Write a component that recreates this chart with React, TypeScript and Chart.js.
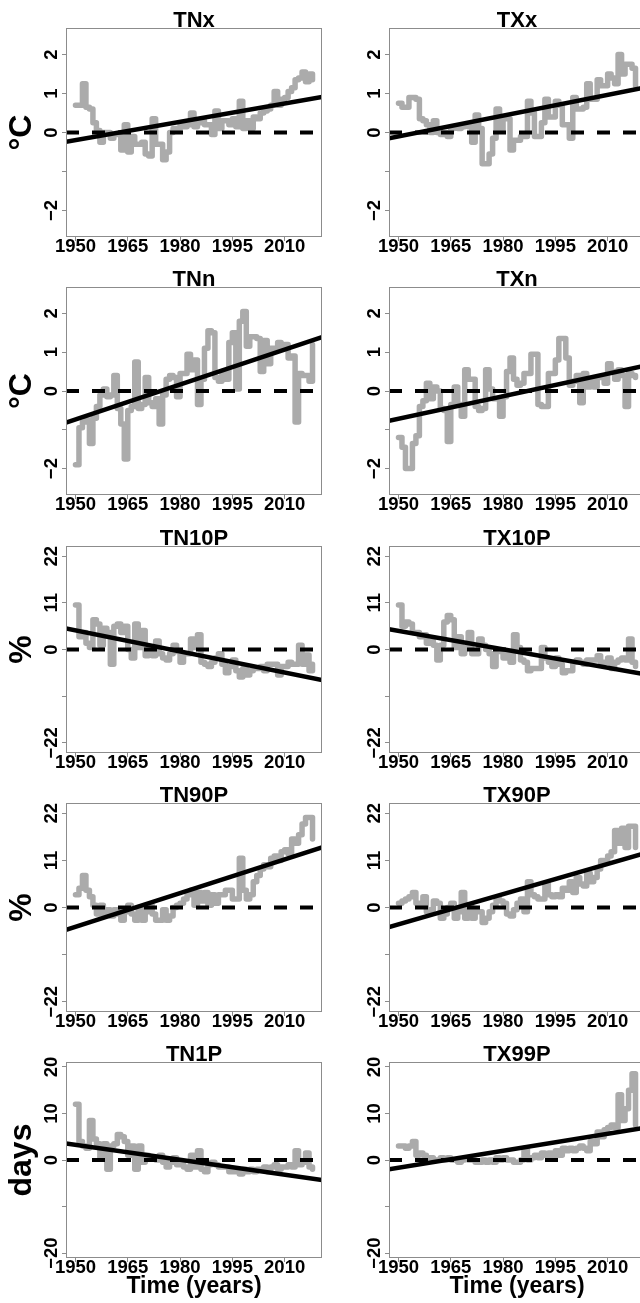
import React, { useEffect, useRef } from "react";
import { Chart, registerables } from "chart.js";

Chart.register(...registerables);

// ---- data -------------------------------------------------------------

const YEARS = [
  1950, 1951, 1952, 1953, 1954, 1955, 1956, 1957, 1958, 1959,
  1960, 1961, 1962, 1963, 1964, 1965, 1966, 1967, 1968, 1969,
  1970, 1971, 1972, 1973, 1974, 1975, 1976, 1977, 1978, 1979,
  1980, 1981, 1982, 1983, 1984, 1985, 1986, 1987, 1988, 1989,
  1990, 1991, 1992, 1993, 1994, 1995, 1996, 1997, 1998, 1999,
  2000, 2001, 2002, 2003, 2004, 2005, 2006, 2007, 2008, 2009,
  2010, 2011, 2012, 2013, 2014, 2015, 2016, 2017, 2018,
];

// Anomalies, one value per year
const TNX = [
  0.7, 0.7, 1.25, 0.65, 0.6, 0.25, 0.05, -0.25, 0.0, 0.0,
  -0.15, -0.05, -0.05, -0.45, 0.2, -0.5, -0.1, -0.3, -0.3, -0.25,
  -0.55, -0.6, 0.35, -0.3, -0.3, -0.7, -0.5, 0.0, 0.1, 0.05,
  0.2, 0.15, 0.2, 0.5, 0.15, 0.25, 0.3, 0.2, 0.2, -0.05,
  0.55, 0.1, 0.3, 0.3, 0.2, 0.35, 0.15, 0.8, 0.1, 0.3,
  0.1, 0.4, 0.35, 0.5, 0.55, 0.6, 0.7, 1.05, 0.7, 0.85,
  0.9, 1.05, 1.15, 1.35, 1.4, 1.55, 1.3, 1.5, 1.35,
];
const TXX = [
  0.75, 0.65, 0.65, 0.9, 0.9, 0.85, 0.35, 0.3, 0.2, 0.0,
  0.3, 0.0, -0.05, 0.0, -0.1, 0.1, 0.15, 0.1, 0.15, 0.2,
  0.15, -0.25, 0.45, 0.1, -0.8, -0.8, -0.55, -0.15, 0.6, 0.05,
  0.35, 0.35, -0.45, -0.2, -0.2, -0.1, -0.1, 0.8, 0.5, -0.1,
  -0.1, 0.25, 0.85, 0.4, 0.4, 0.8, 0.7, 0.2, 0.2, -0.15,
  0.9, 0.6, 0.6, 0.65, 1.25, 0.85, 0.85, 1.35, 1.2, 1.2,
  1.5, 1.4, 1.25, 2.0, 1.5, 1.75, 1.75, 1.65, 1.2,
];
const TNN = [
  -1.9, -0.95, -0.8, -0.75, -1.35, -0.7, -0.4, -0.1, 0.05, -0.15,
  -0.1, 0.4, -0.45, -0.85, -1.75, -0.5, -0.4, 0.75, -0.45, -0.35,
  0.35, -0.3, -0.4, -0.2, -0.85, -0.1, 0.3, 0.4, 0.35, -0.15,
  0.45, 0.45, 0.95, 0.55, 0.8, -0.35, 0.3, 1.1, 1.55, 1.5,
  0.35, 0.25, 0.5, 0.3, 1.25, 1.5, 0.05, 1.8, 2.05, 1.15,
  1.4, 1.4, 1.35, 0.5, 1.3, 0.7, 1.1, 1.1, 1.25, 1.1,
  1.2, 0.85, 0.9, -0.8, 0.45, 0.4, 0.4, 0.25, 1.2,
];
const TXN = [
  -1.2, -1.45, -2.0, -2.0, -1.35, -1.15, -0.4, -0.25, 0.2, -0.2,
  0.1, 0.0, -0.45, -0.5, -1.3, -0.35, 0.1, -0.35, -0.65, 0.55,
  0.3, 0.3, -0.4, -0.5, -0.45, 0.55, 0.05, -0.2, -0.2, -0.65,
  -0.15, 0.5, 0.85, 0.3, 0.15, 0.2, 0.45, 0.45, 0.95, 0.95,
  -0.35, -0.4, -0.4, 0.45, 0.45, 0.8, 1.35, 1.35, 0.85, 0.15,
  0.25, 0.4, -0.3, 0.45, 0.1, 0.3, 0.1, 0.35, 0.35, 0.2,
  0.7, 0.5, 0.3, 0.55, 0.4, -0.4, 0.45, 0.4, 0.35,
];
const TN10P = [
  10.5, 3, 4, 1.5, 0.5, 7, 6, 1, 5, 4,
  -3.5, 5.5, 6, 4, 5.5, 0, -2, 6, 0.5, 4.5,
  -1.5, 0, -1.5, 2, -1, -2, -2.5, -1, 1, -0.5,
  -3, -1, -1, 2.5, 0.5, 3.5, -3, -3.5, -4, -3,
  -2, -1, -3.5, -5.5, -4, -2.5, -5, -6.5, -4.5, -6,
  -5, -4.5, -4.5, -4, -5, -3.5, -3.5, -3.5, -6, -4,
  -4, -3, -3.5, -3.5, 1, -3.5, -1.3, -5, -3.5,
];
const TX10P = [
  10.5, 5.5, 6.5, 6, 4, 4, 3, 3.5, 1.5, 2,
  1, -2.5, 1, 6.5, 8, 7, 0.5, 3, -1, 0.5,
  4, -1, -1, 2.5, 1, 0, -1, -4, -0.5, -0.5,
  -2, -0.5, -3, 3.5, 0.5, -2.5, -3, -5, -4.5, -4.5,
  -4.5, 0.5, -2, -3, -4, -2, -3.5, -5.5, -5, -5,
  -3, -2.5, -3, -3.5, -2.5, -2.5, -2.5, -1.5, -3, -3,
  -2, -4.5, -3, -2.5, -2, -2.5, 2.5, -3, -4,
];
const TN90P = [
  3, 4.5, 7.5, 4, 2.5, 0.5, -1.5, 0.5, -1.5, -0.5,
  -2, -0.5, -1.5, -3, -1, 0.5, -1.5, -3, 0, -3,
  -1, 0.5, -1.5, -3, -3, -0.5, -3, -2, 0, 0.5,
  1, 2, 3, 4, 0.5, 3.5, 1.5, 3.5, 0.5, 3,
  1, 3, 3, 4, 4, 2, 2, 11.5, 4, 2,
  3, 6, 7.5, 9, 10, 9.5, 11.5, 12, 11, 13,
  13.5, 12.5, 16, 15, 17, 19.5, 21, 21, 16,
];
const TX90P = [
  1, 1.5, 2, 2.5, 3.5, 1, 0.5, 2.5, -1, -0.5,
  1.5, 1, -2.5, -1.5, 0, 1, -2.5, -1, 3.5, -2.5,
  0.5, -2.5, -1, -1, -3.5, -2.5, -1, 0.5, 2, 1.5,
  1, -1.5, -2, -0.5, 1, 2, -1, 6, 3, 2.5,
  2, 2, 5.5, 3, 2.5, 3, 2.5, 4.5, 4, 6,
  3.5, 7, 5.5, 5, 8, 6, 7, 9, 11, 10.5,
  12, 13, 18, 15, 18.5, 14, 19, 19, 14,
];
const TN1P = [
  12, 4, 3, 2.5, 8.5, 4.5, 3.5, 0.5, 3.5, -2,
  3, 3.5, 5.5, 5, 4, 1, 3, -2, 3, -0.5,
  1, 0.5, 0.5, 0, 1, -0.5, -1.5, -0.5, 0.5, -1,
  -0.5, -1.5, -2, 1, -1.5, 2, -2, -2.5, -1, -0.5,
  -1, -1.5, -1.5, -1.5, -2.5, -2.5, -2, -3, -2, -2.5,
  -2, -2.5, -2, -2, -1.5, -2.5, -1.5, -1, -2, -1.5,
  -1.5, -1, -1.5, 2, -1, -0.5, 1.5, -1.5, -2,
];
const TX99P = [
  3, 3, 2.5, 3, 4, 1, 1.5, 1, 0.5, 0.5,
  0, 0, 0.5, 0, 0.5, 0, 0, -0.5, 0, 0.5,
  0, 0, -0.5, -0.5, 0, -0.5, 0, -0.5, 0.5, 0,
  0.5, 0, 0, -0.5, -0.5, 0, 2.5, 0, 0.5, 1,
  0.5, 1.5, 1, 1.5, 0.5, 2, 1, 2.5, 2, 2.5,
  2, 2.5, 3, 2.5, 2, 4, 3.5, 6, 5, 6.5,
  7, 7.5, 7, 14, 8.5, 11, 15, 18.5, 7.5,
];

// Linear trend of each index: value in 1950 and change per decade
const TREND_1950 = [-0.197, -0.102, -0.733, -0.717, 4.5, 4.405, -4.487, -3.912, 3.279, -1.668];
const TREND_PER_DECADE = [0.157, 0.178, 0.3, 0.194, -1.654, -1.451, 2.623, 2.344, -1.072, 1.22];

const TITLES = ["TNx", "TXx", "TNn", "TXn", "TN10P", "TX10P", "TN90P", "TX90P", "TN1P", "TX99P"];
const SERIES = [TNX, TXX, TNN, TXN, TN10P, TX10P, TN90P, TX90P, TN1P, TX99P];

// Axes
const X_MIN = 1947.28;
const X_MAX = 2020.72;
const X_TICKS = [1950, 1965, 1980, 1995, 2010];

const TEMP_TICKS = [-2, -1, 0, 1, 2];
const TEMP_LABELS = ["\u22122", "", "0", "1", "2"];
const PCT_TICKS = [-22, -11, 0, 11, 22];
const PCT_LABELS = ["\u221222", "", "0", "11", "22"];
const DAY_TICKS = [-20, -10, 0, 10, 20];
const DAY_LABELS = ["\u221220", "", "0", "10", "20"];

const ROW_UNITS = ["°C", "°C", "%", "%", "days"];
const ROW_LIMITS = [2.68, 2.68, 24.4, 24.4, 21.05];
const ROW_TICKS = [TEMP_TICKS, TEMP_TICKS, PCT_TICKS, PCT_TICKS, DAY_TICKS];
const ROW_LABELS = [TEMP_LABELS, TEMP_LABELS, PCT_LABELS, PCT_LABELS, DAY_LABELS];

// ---- layout & style ---------------------------------------------------

const ROW_TOP = [28, 287, 546, 803, 1062];
const ROW_BOTTOM = [237, 495, 753, 1012, 1258];
const COL_LEFT = [66, 389];
const PLOT_W = 256;
const Y_AXIS_W = 66;
const HEAD = 24; // layout padding + title band
const X_AXIS_H = [24, 24, 24, 24, 40];

const FONT_FAMILY = '"Liberation Sans", Arial, Helvetica, sans-serif';
const TICK_SIZE = 18.5;
const GREY = "#ababab";
const FRAME = "#8c8c8c";

const framePlugin = {
  id: "frame",
  afterDatasetsDraw(chart: any) {
    const { ctx, chartArea: a } = chart;
    ctx.save();
    ctx.strokeStyle = FRAME;
    ctx.lineWidth = 1;
    ctx.strokeRect(Math.round(a.left) + 0.5, Math.round(a.top) + 0.5,
      Math.round(a.right) - Math.round(a.left) - 1, Math.round(a.bottom) - Math.round(a.top) - 1);
    ctx.restore();
  },
};

function Panel({ index }: { index: number }) {
  const ref = useRef<HTMLCanvasElement>(null);
  const row = Math.floor(index / 2);
  const col = index % 2;
  const left = COL_LEFT[col] - Y_AXIS_W;
  const top = ROW_TOP[row] - HEAD;
  const width = Y_AXIS_W + PLOT_W;
  const height = HEAD + (ROW_BOTTOM[row] - ROW_TOP[row]) + X_AXIS_H[row];

  useEffect(() => {
    const canvas = ref.current;
    if (!canvas) return;
    const tickFont = { family: FONT_FAMILY, size: TICK_SIZE, weight: "bold" as const, lineHeight: 1 };
    const labels = ROW_LABELS[row];
    const measure = document.createElement("canvas").getContext("2d")!;
    measure.font = `bold ${TICK_SIZE}px ${FONT_FAMILY}`;
    const widest = Math.max(...labels.map((l) => measure.measureText(l).width));
    const yPad = 10 - widest / 2;

    const values = SERIES[index];
    const steps = YEARS.map((yr, i) => ({ x: yr, y: values[i] }));
    const trendAt = (x: number) => TREND_1950[index] + (TREND_PER_DECADE[index] * (x - 1950)) / 10;
    const trend = [
      { x: X_MIN, y: trendAt(X_MIN) },
      { x: X_MAX, y: trendAt(X_MAX) },
    ];
    const zero = [
      { x: X_MIN, y: 0 },
      { x: X_MAX, y: 0 },
    ];
    const limit = ROW_LIMITS[row];

    const chart = new Chart(canvas, {
      type: "line",
      data: {
        datasets: [
          {
            data: trend,
            borderColor: "#000",
            borderWidth: 4.5,
            pointRadius: 0,
            clip: 0,
            order: 1,
          },
          {
            data: zero,
            borderColor: "#000",
            borderWidth: 4,
            borderDash: [13, 13],
            pointRadius: 0,
            clip: 0,
            order: 2,
          },
          {
            data: steps,
            borderColor: GREY,
            borderWidth: 5.5,
            stepped: true,
            pointRadius: 0,
            borderJoinStyle: "round",
            borderCapStyle: "round",
            order: 3,
          },
        ],
      } as any,
      options: {
        animation: false,
        responsive: false,
        events: [],
        layout: { padding: { top: 10, left: 0, right: 0, bottom: 0 } },
        plugins: {
          legend: { display: false },
          tooltip: { enabled: false },
          title: {
            display: true,
            text: TITLES[index],
            color: "#000",
            fullSize: false,
            align: "center",
            padding: 0,
            font: { family: FONT_FAMILY, size: 22, weight: "bold", lineHeight: 14 / 22 },
          },
        },
        scales: {
          x: {
            type: "linear",
            min: X_MIN,
            max: X_MAX,
            bounds: "data",
            afterBuildTicks: (s: any) => {
              s.ticks = X_TICKS.map((v) => ({ value: v }));
            },
            afterFit: (s: any) => {
              s.height = X_AXIS_H[row];
            },
            border: { display: false },
            grid: { display: true, drawOnChartArea: false, drawTicks: true, tickLength: 4, color: FRAME, lineWidth: 1 },
            ticks: {
              autoSkip: false,
              minRotation: 0,
              maxRotation: 0,
              padding: -3.5,
              color: "#000",
              font: tickFont,
              callback: (v: any) => String(v),
            },
            title: {
              display: row === 4,
              text: "Time (years)",
              color: "#000",
              padding: { top: 0, bottom: 0 },
              font: { family: FONT_FAMILY, size: 23, weight: "bold", lineHeight: 1 },
            },
          },
          y: {
            type: "linear",
            min: -limit,
            max: limit,
            bounds: "data",
            afterBuildTicks: (s: any) => {
              s.ticks = ROW_TICKS[row].map((v) => ({ value: v }));
            },
            afterFit: (s: any) => {
              s.width = Y_AXIS_W;
            },
            border: { display: false },
            grid: { display: true, drawOnChartArea: false, drawTicks: true, tickLength: 4, color: FRAME, lineWidth: 1 },
            ticks: {
              autoSkip: false,
              minRotation: 90,
              maxRotation: 90,
              crossAlign: "center",
              padding: yPad,
              color: "#000",
              font: tickFont,
              callback: (_v: any, i: number) => labels[i],
            },
            title: {
              display: col === 0,
              text: ROW_UNITS[row],
              color: "#000",
              padding: { top: 6, bottom: 0 },
              font: { family: FONT_FAMILY, size: 32, weight: "bold", lineHeight: 1 },
            },
          },
        },
      } as any,
      plugins: [framePlugin],
    });
    return () => chart.destroy();
  }, [index, row, col]);

  return (
    <canvas
      ref={ref}
      width={width}
      height={height}
      style={{ position: "absolute", left, top, width, height }}
    />
  );
}

export default function App() {
  return (
    <div
      style={{
        position: "fixed",
        left: 0,
        top: 0,
        width: 640,
        height: 1303,
        overflow: "hidden",
        background: "#fff",
      }}
    >
      {TITLES.map((t, i) => (
        <Panel key={t} index={i} />
      ))}
    </div>
  );
}
